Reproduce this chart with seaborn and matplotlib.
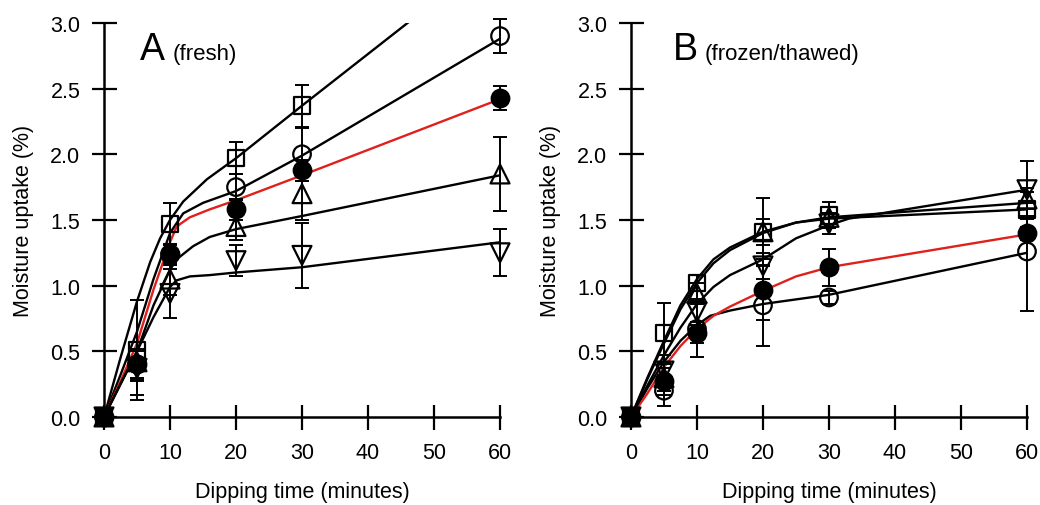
import numpy as np
import pandas as pd
import matplotlib
matplotlib.use("Agg")
import matplotlib.pyplot as plt
import seaborn as sns

# ---------------- data ----------------
t_points = [0, 5, 10, 20, 30, 60]
xticks = [0, 10, 20, 30, 40, 50, 60]
yticks = [0.0, 0.5, 1.0, 1.5, 2.0, 2.5, 3.0]

# Panel A (fresh): measured means and SDs
A_square = [0, 0.51, 1.47, 1.97, 2.37, np.nan]
A_square_sd = [0, 0.38, 0.16, 0.12, 0.16, np.nan]
A_circle = [0, 0.40, 1.24, 1.75, 2.00, 2.90]
A_circle_sd = [0, 0.12, 0.08, 0.10, 0.20, 0.13]
A_filled = [0, 0.40, 1.24, 1.58, 1.88, 2.43]
A_filled_sd = [0, 0.10, 0.08, 0.08, 0.08, 0.09]
A_up = [0, 0.42, 1.05, 1.45, 1.70, 1.85]
A_up_sd = [0, 0.15, 0.12, 0.10, 0.20, 0.28]
A_down = [0, 0.37, 0.94, 1.19, 1.23, 1.25]
A_down_sd = [0, 0.20, 0.19, 0.12, 0.25, 0.18]

# Panel A fitted curves
A_square_fit_t = [0, 2.5, 5, 7, 8.5, 10, 12, 15.6, 20, 30, 46, 60]
A_square_fit = [0, 0.45, 0.88, 1.18, 1.36, 1.50, 1.64, 1.81, 1.97, 2.37, 3.00, 3.55]
A_circle_fit_t = [0, 2.5, 5, 7.5, 10, 12, 15, 20, 30, 60]
A_circle_fit = [0, 0.32, 0.65, 1.05, 1.40, 1.55, 1.63, 1.72, 1.99, 2.88]
A_filled_fit_t = [0, 2.5, 5, 7.5, 10, 11, 13, 16, 20, 30, 60]
A_filled_fit = [0, 0.27, 0.56, 0.97, 1.33, 1.45, 1.52, 1.58, 1.65, 1.84, 2.42]
A_up_fit_t = [0, 2.5, 5, 7.5, 10, 11, 13.5, 16, 20, 30, 60]
A_up_fit = [0, 0.25, 0.50, 0.85, 1.12, 1.20, 1.30, 1.37, 1.43, 1.53, 1.84]
A_down_fit_t = [0, 2.5, 5, 7.5, 10, 11, 13, 16, 20, 30, 60]
A_down_fit = [0, 0.25, 0.50, 0.76, 0.99, 1.04, 1.07, 1.08, 1.10, 1.14, 1.33]

# Panel B (frozen/thawed): measured means and SDs
B_square = [0, 0.64, 1.02, 1.41, 1.535, 1.58]
B_square_sd = [0, 0.23, 0.06, 0.26, 0.10, 0.05]
B_circle = [0, 0.20, 0.67, 0.85, 0.91, 1.26]
B_circle_sd = [0, 0.12, 0.21, 0.31, 0.05, 0.45]
B_filled = [0, 0.27, 0.64, 0.97, 1.14, 1.40]
B_filled_sd = [0, 0.10, 0.08, 0.23, 0.14, 0.05]
B_up = [0, 0.30, 0.94, 1.41, 1.52, 1.66]
B_up_sd = [0, 0.10, 0.08, 0.10, 0.08, 0.08]
B_down = [0, 0.35, 0.80, 1.15, 1.47, 1.73]
B_down_sd = [0, 0.12, 0.10, 0.10, 0.08, 0.22]

# Panel B fitted curves
B_square_fit_t = [0, 2.5, 5, 7.5, 10, 12.5, 15, 20, 25, 30, 60]
B_square_fit = [0, 0.30, 0.58, 0.85, 1.05, 1.20, 1.29, 1.41, 1.48, 1.51, 1.58]
B_up_fit_t = [0, 2.5, 5, 7.5, 10, 12.5, 15, 20, 25, 30, 60]
B_up_fit = [0, 0.29, 0.56, 0.82, 1.02, 1.17, 1.27, 1.40, 1.48, 1.52, 1.63]
B_down_fit_t = [0, 2.5, 5, 7.5, 10, 12.5, 15, 20, 25, 30, 33, 60]
B_down_fit = [0, 0.24, 0.47, 0.68, 0.86, 0.99, 1.08, 1.20, 1.36, 1.46, 1.51, 1.73]
B_filled_fit_t = [0, 2.5, 5, 7.5, 10, 12.5, 15, 20, 25, 30, 60]
B_filled_fit = [0, 0.18, 0.38, 0.54, 0.67, 0.77, 0.84, 0.96, 1.07, 1.14, 1.39]
B_circle_fit_t = [0, 2.5, 5, 7.5, 10, 12, 15, 20, 30, 60]
B_circle_fit = [0, 0.22, 0.42, 0.58, 0.70, 0.77, 0.81, 0.86, 0.93, 1.25]

panel_letters = ["A", "B"]
panel_notes = ["(fresh)", "(frozen/thawed)"]
xlabel = "Dipping time (minutes)"
ylabel = "Moisture uptake (%)"

# ---------------- style ----------------
sns.set_style("ticks")
plt.rcParams["font.family"] = ["Liberation Sans", "DejaVu Sans"]
plt.rcParams["text.color"] = "k"
plt.rcParams["axes.labelcolor"] = "k"
RED = "#e0201c"

fig = plt.figure(figsize=(10.4, 5.06), dpi=100)
axA = fig.add_axes([0.1, 0.174, 0.3808, 0.7787])
axB = fig.add_axes([0.6067, 0.174, 0.3808, 0.7787])

panelA = [
    (A_square, A_square_sd, A_square_fit_t, A_square_fit, "s", False, "k"),
    (A_circle, A_circle_sd, A_circle_fit_t, A_circle_fit, "o", False, "k"),
    (A_filled, A_filled_sd, A_filled_fit_t, A_filled_fit, "o", True, RED),
    (A_up, A_up_sd, A_up_fit_t, A_up_fit, "^", False, "k"),
    (A_down, A_down_sd, A_down_fit_t, A_down_fit, "v", False, "k"),
]
panelB = [
    (B_square, B_square_sd, B_square_fit_t, B_square_fit, "s", False, "k"),
    (B_circle, B_circle_sd, B_circle_fit_t, B_circle_fit, "o", False, "k"),
    (B_filled, B_filled_sd, B_filled_fit_t, B_filled_fit, "o", True, RED),
    (B_up, B_up_sd, B_up_fit_t, B_up_fit, "^", False, "k"),
    (B_down, B_down_sd, B_down_fit_t, B_down_fit, "v", False, "k"),
]

msize = {"s": 140, "o": 160, "^": 185, "v": 185}

for ax, series, letter, note in zip([axA, axB], [panelA, panelB], panel_letters, panel_notes):
    for vals, sd, ft, fv, m, filled, lc in series:
        fit_df = pd.DataFrame({"t": ft, "y": fv})
        sns.lineplot(data=fit_df, x="t", y="y", ax=ax, color=lc, lw=1.7,
                     sort=False, estimator=None, zorder=2)
        ax.errorbar(t_points, vals, yerr=sd, fmt="none", ecolor="k",
                    elinewidth=1.4, capsize=4.8, capthick=1.4, zorder=3,
                    clip_on=False)
    for vals, sd, ft, fv, m, filled, lc in series:
        pt_df = pd.DataFrame({"t": t_points, "y": vals}).dropna()
        n0 = len(ax.collections)
        sns.scatterplot(data=pt_df, x="t", y="y", ax=ax, marker=m, s=msize[m],
                        color="k", facecolor=("k" if filled else "none"),
                        edgecolor="k", linewidth=1.6, zorder=4)
        for c in ax.collections[n0:]:
            c.set_clip_on(False)

    ax.set_xlim(0, 60)
    ax.set_ylim(0, 3.0)
    ax.set_xticks(xticks)
    ax.set_yticks(yticks)
    ax.set_yticklabels([f"{v:.1f}" for v in yticks])
    ax.tick_params(direction="inout", length=18, width=1.6, colors="k",
                   labelsize=15.5, labelcolor="k")
    ax.tick_params(axis="y", pad=8)
    ax.tick_params(axis="x", pad=9)
    for s in ["top", "right"]:
        ax.spines[s].set_visible(False)
    for s in ["left", "bottom"]:
        ax.spines[s].set_linewidth(1.8)
        ax.spines[s].set_color("k")
    ax.set_xlabel(xlabel, fontsize=15.5, color="k")
    ax.set_ylabel(ylabel, fontsize=15.5, color="k")
    ax.xaxis.set_label_coords(0.5, -0.163)
    ax.yaxis.set_label_coords(-0.177, 0.5)

axA.text(0.091, 0.909, panel_letters[0], fontsize=27, transform=axA.transAxes, va="baseline")
axA.text(0.174, 0.909, panel_notes[0], fontsize=16, transform=axA.transAxes, va="baseline")
axB.text(0.107, 0.909, panel_letters[1], fontsize=27, transform=axB.transAxes, va="baseline")
axB.text(0.187, 0.909, panel_notes[1], fontsize=16, transform=axB.transAxes, va="baseline")

fig.savefig("out.png", dpi=100)
